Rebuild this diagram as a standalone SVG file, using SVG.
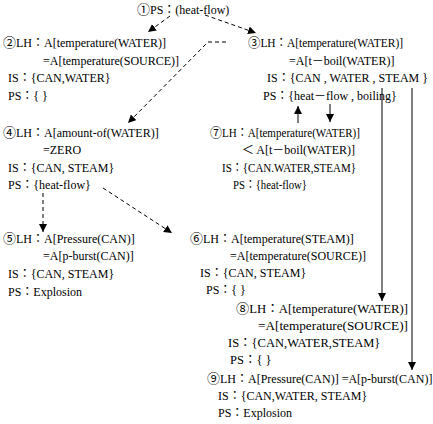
<svg xmlns="http://www.w3.org/2000/svg" width="433" height="424" viewBox="0 0 433 424">
<style>
text{font-family:"Liberation Serif","Noto Sans CJK JP",serif;font-size:12px;fill:#000}
.n{font-family:"Noto Sans CJK JP","Noto Sans CJK SC",sans-serif;font-size:13px}
.b{font-size:12.5px}
.c{stroke:#000;stroke-width:1;fill:none}
.d{stroke-dasharray:4,3}
</style>
<defs>
<marker id="a" viewBox="0 0 10 10" refX="10" refY="5" markerWidth="8" markerHeight="8" markerUnits="userSpaceOnUse" orient="auto"><path d="M0,0L10,5L0,10z" fill="#000"/></marker>
</defs>
<rect width="433" height="424" fill="#fff"/>
<g id="connectors">
<path class="c d" d="M170,16L148,32" marker-end="url(#a)"/>
<path class="c d" d="M205,15L256,33" marker-end="url(#a)"/>
<path class="c d" d="M226,42L208,42L128,123" marker-end="url(#a)"/>
<path class="c" d="M298,123L298,106" marker-end="url(#a)"/>
<path class="c" d="M330,104L330,122" marker-end="url(#a)"/>
<path class="c" d="M382,88L382,301" marker-end="url(#a)"/>
<path class="c" d="M412,88L412,370" marker-end="url(#a)"/>
<path class="c d" d="M43,193L43,232" marker-end="url(#a)"/>
<path class="c d" d="M103,188L172,233" marker-end="url(#a)"/>
</g>
<g id="n1"><text x="137" y="14"><tspan class="n">①</tspan>PS：(heat-flow)</text></g>
<g id="n2">
<text x="3" y="47"><tspan class="n">②</tspan>LH：A[temperature(WATER)]</text>
<text x="43" y="65">=A[temperature(SOURCE)]</text>
<text x="8" y="82">IS：{CAN,WATER}</text>
<text x="8" y="100">PS：{ }</text>
</g>
<g id="n3">
<text x="248" y="47" textLength="155" lengthAdjust="spacingAndGlyphs"><tspan class="n">③</tspan>LH：A[temperature(WATER)]</text>
<text x="289" y="65">=A[t－boil(WATER)]</text>
<text x="267" y="82">IS：{CAN , WATER , STEAM }</text>
<text x="263" y="100">PS：{heat－flow , boiling}</text>
</g>
<g id="n4">
<text x="3" y="137"><tspan class="n">④</tspan>LH：A[amount-of(WATER)]</text>
<text x="43" y="154">=ZERO</text>
<text x="8" y="172">IS：{CAN, STEAM}</text>
<text x="8" y="189">PS：{heat-flow}</text>
</g>
<g id="n7">
<text x="210" y="137" textLength="150" lengthAdjust="spacingAndGlyphs"><tspan class="n">⑦</tspan>LH：A[temperature(WATER)]</text>
<text x="242" y="154">＜ A[t－boil(WATER)]</text>
<text x="222" y="172" textLength="134" lengthAdjust="spacingAndGlyphs">IS：{CAN.WATER,STEAM}</text>
<text x="233" y="189" textLength="74" lengthAdjust="spacingAndGlyphs">PS：{heat-flow}</text>
</g>
<g id="n5">
<text x="3" y="243"><tspan class="n">⑤</tspan>LH：A[Pressure(CAN)]</text>
<text x="43" y="260">=A[p-burst(CAN)]</text>
<text x="8" y="278">IS：{CAN, STEAM}</text>
<text x="8" y="296">PS：Explosion</text>
</g>
<g id="n6">
<text x="190" y="243"><tspan class="n">⑥</tspan>LH：A[temperature(STEAM)]</text>
<text x="230" y="260">=A[temperature(SOURCE)]</text>
<text x="200" y="277">IS：{CAN, STEAM}</text>
<text x="206" y="294">PS：{ }</text>
</g>
<g id="n8">
<text class="b" x="236" y="313" textLength="172" lengthAdjust="spacingAndGlyphs"><tspan class="n">⑧</tspan>LH：A[temperature(WATER)]</text>
<text class="b" x="258" y="330" textLength="150" lengthAdjust="spacingAndGlyphs">=A[temperature(SOURCE)]</text>
<text class="b" x="228" y="347">IS：{CAN,WATER,STEAM}</text>
<text class="b" x="230" y="364">PS：{ }</text>
</g>
<g id="n9">
<text x="207" y="383"><tspan class="n">⑨</tspan>LH：A[Pressure(CAN)] =A[p-burst(CAN)]</text>
<text x="218" y="400">IS：{CAN,WATER, STEAM}</text>
<text x="218" y="417">PS：Explosion</text>
</g>
</svg>
